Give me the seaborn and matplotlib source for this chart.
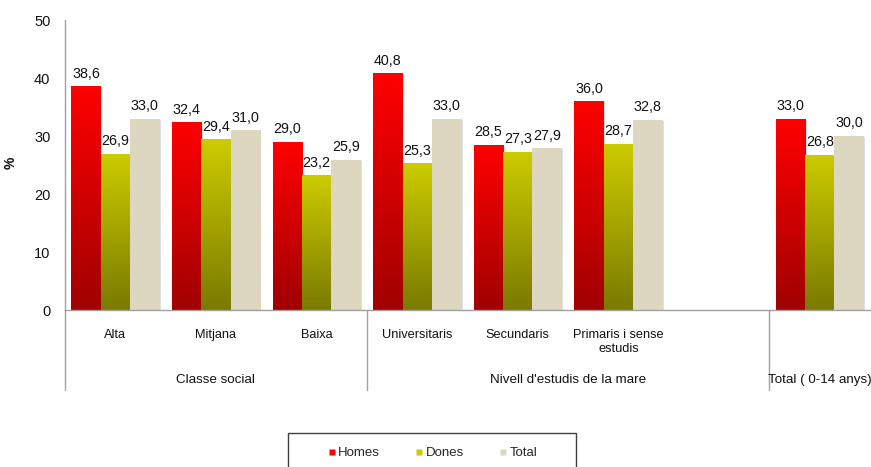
import numpy as np
import pandas as pd
import matplotlib
matplotlib.use("Agg")
import matplotlib.pyplot as plt
from matplotlib.colors import LinearSegmentedColormap
from matplotlib.lines import Line2D
from matplotlib.patches import Rectangle
import matplotlib.transforms as mtransforms
import seaborn as sns

categories = ["Alta", "Mitjana", "Baixa", "Universitaris", "Secundaris",
              "Primaris i sense\nestudis", "Total"]
slot_order = ["Alta", "Mitjana", "Baixa", "Universitaris", "Secundaris",
              "Primaris i sense\nestudis", "_gap_", "Total"]
tick_labels = ["Alta", "Mitjana", "Baixa", "Universitaris", "Secundaris",
               "Primaris i sense\nestudis", "", ""]
homes = [38.6, 32.4, 29.0, 40.8, 28.5, 36.0, 33.0]
dones = [26.9, 29.4, 23.2, 25.3, 27.3, 28.7, 26.8]
total = [33.0, 31.0, 25.9, 33.0, 27.9, 32.8, 30.0]
series = ["Homes", "Dones", "Total"]
groups = ["Classe social", "Nivell d'estudis de la mare", "Total ( 0-14 anys)"]
group_bounds = [(-0.5, 2.5), (2.5, 6.5), (6.5, 7.5)]

top_colors = {"Homes": "#ff0000", "Dones": "#cccc00", "Total": "#ddd7c1"}
bottom_colors = {"Homes": "#a00000", "Dones": "#7a7a00", "Total": "#ddd7c1"}

df = pd.DataFrame({
    "cat": categories * 3,
    "serie": ["Homes"] * 7 + ["Dones"] * 7 + ["Total"] * 7,
    "val": homes + dones + total,
})

sns.set_theme(style="white")
plt.rcParams["font.family"] = ["Liberation Sans", "DejaVu Sans"]

W, H = 871, 467
fig = plt.figure(figsize=(W / 100, H / 100), dpi=100)
ax = fig.add_axes([65 / W, (H - 310) / H, (870 - 65) / W, (310 - 20) / H])

sns.barplot(data=df, x="cat", y="val", hue="serie", order=slot_order,
            hue_order=series, palette=[top_colors[s] for s in series],
            width=0.875, ax=ax, legend=False, errorbar=None, saturation=1)

ax.set_ylim(0, 50)
ax.set_xlim(-0.5, 7.5)
ax.set_yticks(range(0, 51, 10))
ax.set_yticklabels([str(v) for v in range(0, 51, 10)], fontsize=10.5,
                   color="#111111")
ax.set_xticks(range(8))
ax.set_xticklabels(tick_labels, fontsize=9.2, linespacing=1.15,
                   color="#111111")
ax.tick_params(axis="both", length=0)
ax.tick_params(axis="x", pad=14)
ax.tick_params(axis="y", pad=10.5)
ax.set_xlabel("")
ax.set_ylabel("%", fontsize=10, fontweight="bold", color="#111111")
ax.yaxis.set_label_coords(-47 / 805, 0.507)
for s in ["top", "right"]:
    ax.spines[s].set_visible(False)
for s in ["left", "bottom"]:
    ax.spines[s].set_color("#a0a0a0")
    ax.spines[s].set_linewidth(1.0)

# gradient fills
grad = np.linspace(1, 0, 256).reshape(-1, 1)
for cont, s in zip(ax.containers, series):
    cmap = LinearSegmentedColormap.from_list(s, [bottom_colors[s], top_colors[s]])
    for bar in cont:
        x0, y0 = bar.get_x(), bar.get_y()
        w, h = bar.get_width(), bar.get_height()
        if not np.isfinite(h):
            continue
        sh = Rectangle((x0, y0), w, h, facecolor="#000000", alpha=0.12,
                       edgecolor="none", zorder=1.5,
                       transform=ax.transData + mtransforms.ScaledTranslation(1.5 / 100, -1.0 / 100, fig.dpi_scale_trans))
        ax.add_patch(sh)
        bar.set_edgecolor("none")
        bar.set_zorder(2)
        im = ax.imshow(grad, cmap=cmap, extent=(x0, x0 + w, y0, y0 + h),
                       aspect="auto", zorder=2.5, interpolation="bicubic",
                       vmin=0, vmax=1)
        im.set_clip_path(bar)
    ax.bar_label(cont, fmt=lambda v: f"{v:.1f}".replace(".", ","),
                 padding=4, fontsize=10.3, color="#111111")

ax.set_xlim(-0.5, 7.5)
ax.set_ylim(0, 50)

# group separators and labels
trans = mtransforms.blended_transform_factory(ax.transData, ax.transAxes)
for xsep in [-0.5, 2.5, 6.5]:
    ax.add_line(Line2D([xsep, xsep], [0, -80 / 290], transform=trans,
                       color="#a0a0a0", lw=1.0, clip_on=False))
for g, (a, b) in zip(groups, group_bounds):
    ax.text((a + b) / 2, -70 / 290, g, transform=trans, ha="center",
            va="center", fontsize=9.6, color="#111111")

# legend
fig.add_artist(Rectangle((288 / W, (H - 470) / H), (576 - 288) / W, 37 / H,
                         transform=fig.transFigure, facecolor="white",
                         edgecolor="#404040", lw=1.0))
handles = [Line2D([], [], marker="s", linestyle="none", markersize=4.8,
                  markerfacecolor=top_colors[s], markeredgecolor="none")
           for s in series]
fig.legend(handles, series, loc="center", ncol=3, frameon=False,
           bbox_to_anchor=(432 / W, (H - 453) / H), fontsize=9.5,
           handletextpad=0.15, columnspacing=2.6, handlelength=0.7)

fig.savefig("out.png", dpi=100)
